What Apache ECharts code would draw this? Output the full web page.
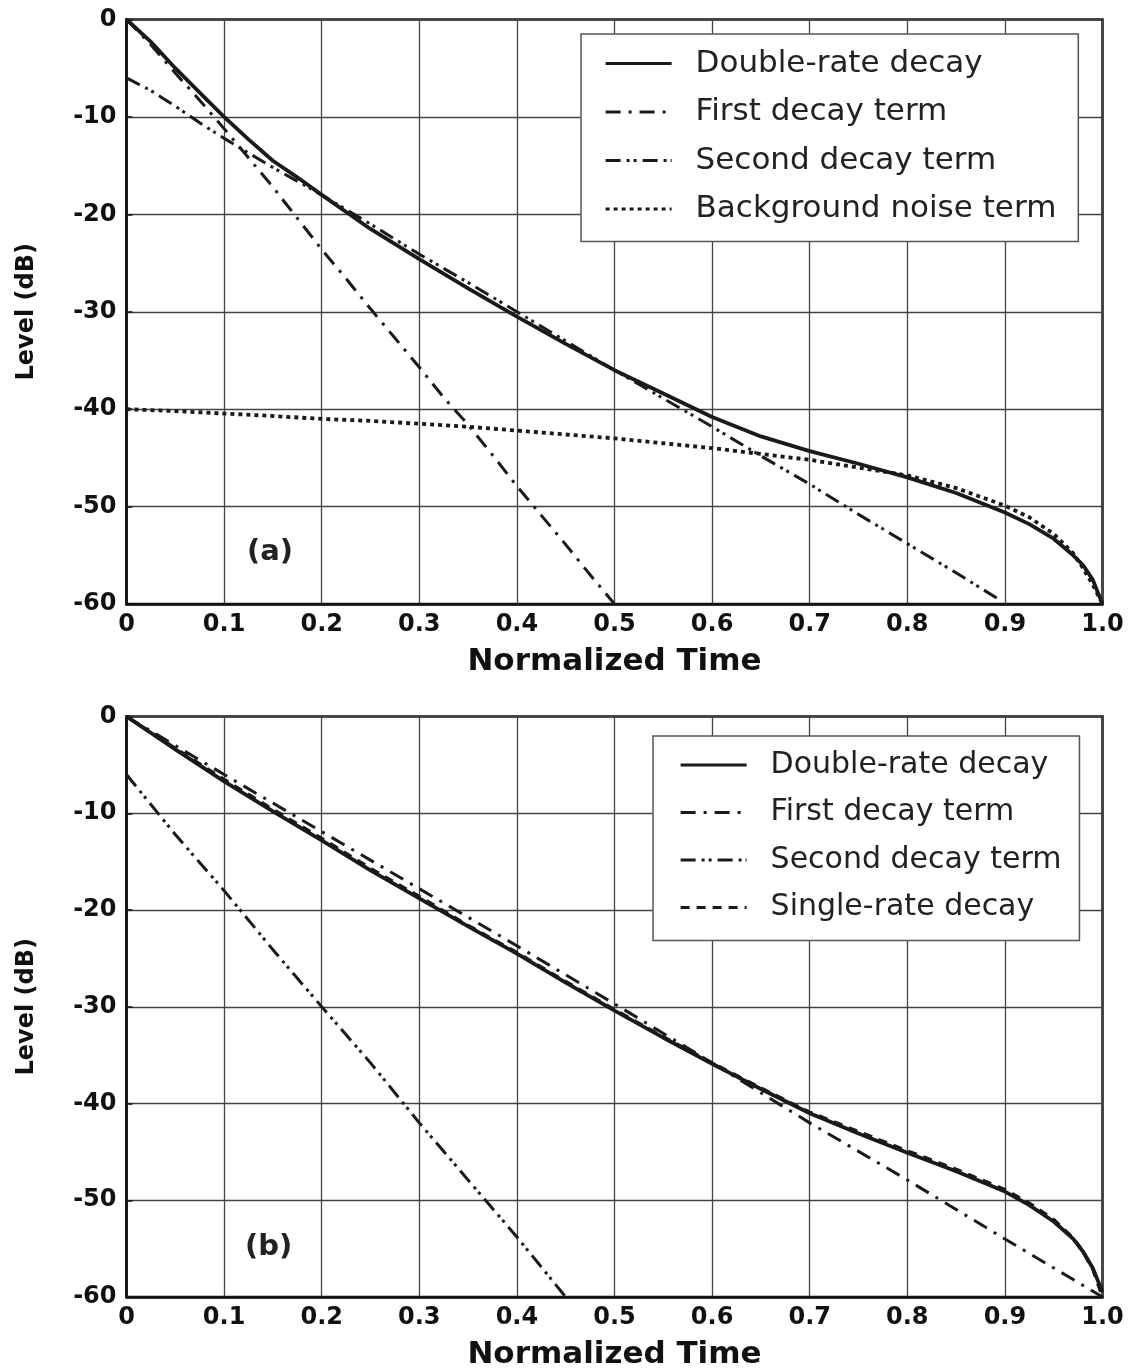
<!DOCTYPE html>
<html>
<head>
<meta charset="utf-8">
<script src="https://cdn.jsdelivr.net/npm/echarts@6/dist/echarts.min.js"></script>
<style>
html,body{margin:0;padding:0;background:#fff;}
#chart{width:1134px;height:1371px;}
</style>
</head>
<body>
<div id="chart"></div>
<script>
// ---------- Data ----------
var xTicks = [0, 0.1, 0.2, 0.3, 0.4, 0.5, 0.6, 0.7, 0.8, 0.9, 1.0];
var yTicks = [0, -10, -20, -30, -40, -50, -60];

// Panel (a)
var aDoubleX = [0,0.025,0.05,0.075,0.1,0.125,0.15,0.175,0.2,0.25,0.3,0.35,0.4,0.45,0.5,0.55,0.6,0.65,0.7,0.75,0.8,0.85,0.9,0.925,0.95,0.97,0.98,0.99,1.0];
var aDoubleY = [0,-2.3,-5.0,-7.5,-10.0,-12.3,-14.5,-16.2,-18.0,-21.5,-24.6,-27.6,-30.5,-33.3,-36.0,-38.4,-40.8,-42.8,-44.3,-45.6,-47.0,-48.6,-50.6,-51.8,-53.3,-55.0,-56.0,-57.5,-60.0];

var aFirstX = [0,0.025,0.05,0.075,0.1,0.125,0.15,0.175,0.2,0.225,0.25,0.275,0.3,0.325,0.35,0.375,0.4,0.425,0.45,0.475,0.5];
var aFirstY = [0,-2.6,-5.5,-8.3,-11.2,-14.2,-17.2,-20.4,-23.6,-26.6,-29.7,-32.7,-35.7,-38.8,-41.6,-44.7,-47.9,-50.9,-53.9,-57.0,-60.0];

var aSecondX = [0,0.025,0.05,0.075,0.1,0.15,0.2,0.25,0.3,0.35,0.4,0.45,0.5,0.55,0.6,0.65,0.7,0.75,0.8,0.85,0.895];
var aSecondY = [-6.0,-7.3,-8.9,-10.6,-12.2,-15.2,-18.0,-21.0,-24.1,-27.0,-30.0,-33.0,-36.0,-38.9,-41.8,-44.8,-47.7,-50.8,-53.8,-56.8,-59.6];

var aNoiseX = [0,0.05,0.1,0.15,0.2,0.25,0.3,0.35,0.4,0.45,0.5,0.55,0.6,0.65,0.7,0.75,0.8,0.85,0.9,0.925,0.95,0.97,0.98,0.99,1.0];
var aNoiseY = [-40.0,-40.2,-40.45,-40.7,-41.0,-41.2,-41.5,-41.8,-42.2,-42.6,-43.0,-43.5,-44.0,-44.6,-45.2,-46.0,-46.8,-48.1,-49.9,-51.1,-52.8,-54.8,-56.3,-58.0,-60.0];

// Panel (b)
var bDoubleX = [0,0.05,0.1,0.15,0.2,0.25,0.3,0.35,0.4,0.45,0.5,0.55,0.6,0.65,0.7,0.75,0.8,0.85,0.9,0.925,0.95,0.97,0.98,0.99,1.0];
var bDoubleY = [0,-3.4,-6.7,-9.8,-12.8,-15.9,-18.8,-21.7,-24.5,-27.5,-30.4,-33.2,-35.9,-38.5,-41.0,-43.1,-45.1,-47.0,-49.1,-50.5,-52.2,-54.0,-55.3,-57.0,-59.5];

var bFirstX = [0,0.1,0.2,0.3,0.4,0.5,0.6,0.7,0.8,0.9,1.0];
var bFirstY = [0,-6.0,-11.9,-17.8,-23.7,-29.7,-35.8,-42.0,-47.9,-54.0,-60.0];

var bSecondX = [0,0.05,0.1,0.15,0.2,0.25,0.3,0.35,0.4,0.45];
var bSecondY = [-6.0,-12.2,-18.0,-24.1,-30.0,-35.8,-42.0,-47.9,-53.8,-60.0];

var bSingleX = [0,0.05,0.1,0.15,0.2,0.25,0.3,0.35,0.4,0.45,0.5,0.55,0.6,0.65,0.7,0.75,0.8,0.85,0.9,0.925,0.95,0.97,0.98,0.99,1.0];
var bSingleY = [0,-3.3,-6.5,-9.6,-12.6,-15.7,-18.6,-21.6,-24.4,-27.4,-30.3,-33.1,-35.8,-38.4,-40.9,-42.9,-44.9,-46.8,-48.9,-50.3,-52.0,-53.9,-55.3,-57.1,-60.0];

var namesA = ['Double-rate decay', 'First decay term', 'Second decay term', 'Background noise term'];
var namesB = ['Double-rate decay', 'First decay term', 'Second decay term', 'Single-rate decay'];
var panelLabels = ['(a)', '(b)'];
var xName = 'Normalized Time';
var yName = 'Level (dB)';

// ---------- Helpers ----------
function pairs(xs, ys) { return xs.map(function (x, i) { return [x, ys[i]]; }); }
var FONT = 'DejaVu Sans';
var INK = '#1a1a1a';

var styles = {
  solid:  { type: 'solid', width: 3.8 },
  dashDot: { type: [15, 8, 3, 8], width: 3 },
  dashDotDot: { type: [15, 6, 3, 4, 3, 6], width: 3 },
  dotted: { type: [4, 4], width: 3.8 },
  dashed: { type: [9, 7], width: 3.4 }
};

function mkSeries(name, xs, ys, st, idx) {
  return {
    type: 'line', name: name, xAxisIndex: idx, yAxisIndex: idx,
    data: pairs(xs, ys), symbol: 'none', showSymbol: false, smooth: false,
    lineStyle: { color: INK, width: st.width, type: st.type, cap: 'butt' },
    itemStyle: { color: INK },
    animation: false
  };
}

function mkX(idx, gap) {
  return {
    type: 'value', gridIndex: idx, min: 0, max: 1, interval: 0.1,
    axisLine: { show: true, onZero: false, lineStyle: { color: '#111', width: 2.5 } },
    axisTick: { show: false },
    splitLine: { show: true, lineStyle: { color: '#444', width: 1.3 } },
    axisLabel: {
      formatter: function (v) { return Math.abs(v) < 1e-9 ? '0' : v.toFixed(1); },
      fontFamily: FONT, fontWeight: 'bold', fontSize: 24, color: '#111', margin: 9
    },
    name: xName, nameLocation: 'middle', nameGap: gap,
    nameTextStyle: { fontFamily: FONT, fontWeight: 'bold', fontSize: 31, color: '#111' }
  };
}
function mkY(idx) {
  return {
    type: 'value', gridIndex: idx, min: -60, max: 0, interval: 10,
    axisLine: { show: true, onZero: false, lineStyle: { color: '#111', width: 2.5 } },
    axisTick: { show: true, inside: true, length: 6, lineStyle: { color: '#111', width: 1.5 } },
    splitLine: { show: true, lineStyle: { color: '#444', width: 1.3 } },
    axisLabel: { fontFamily: FONT, fontWeight: 'bold', fontSize: 24, color: '#111', margin: 10 },
    name: yName, nameLocation: 'middle', nameGap: 88, nameRotate: 90,
    nameTextStyle: { fontFamily: FONT, fontWeight: 'bold', fontSize: 24, color: '#111' }
  };
}
function mkLegend(names, left, top, fs, pad) {
  return {
    data: names, orient: 'vertical', left: left, top: top,
    backgroundColor: '#fff', borderColor: '#555', borderWidth: 1.5, borderRadius: 0,
    padding: pad, itemWidth: 66, itemHeight: 20, itemGap: 17.5,
    selectedMode: false,
    itemStyle: { opacity: 0, borderWidth: 0 },
    lineStyle: { width: 3.2 },
    textStyle: { fontFamily: FONT, fontSize: fs, color: '#222', padding: [0, 0, 0, 19] }
  };
}

var chart = echarts.init(document.getElementById('chart'), null, { renderer: 'canvas' });
var option = {
  backgroundColor: '#fff',
  animation: false,
  grid: [
    { left: 126.5, top: 19.5, width: 976, height: 584.5, show: true, borderColor: '#111', borderWidth: 2.5, backgroundColor: 'transparent' },
    { left: 126.5, top: 716.5, width: 976, height: 585, show: true, borderColor: '#111', borderWidth: 2.5, backgroundColor: 'transparent' }
  ],
  xAxis: [mkX(0, 42), mkX(1, 42)],
  yAxis: [mkY(0), mkY(1)],
  legend: [
    mkLegend(namesA, 581, 34, 31, [14, 22, 17, 23]),
    mkLegend(namesB, 653, 736, 30, [14, 18, 18, 26])
  ],
  graphic: [
    { type: 'text', left: 247, top: 538, style: { text: panelLabels[0], font: 'bold 29px "DejaVu Sans"', fill: '#222' } },
    { type: 'text', left: 245, top: 1233, style: { text: panelLabels[1], font: 'bold 29px "DejaVu Sans"', fill: '#222' } }
  ],
  series: [
    mkSeries(namesA[3], aNoiseX, aNoiseY, styles.dotted, 0),
    mkSeries(namesA[1], aFirstX, aFirstY, styles.dashDot, 0),
    mkSeries(namesA[2], aSecondX, aSecondY, styles.dashDotDot, 0),
    mkSeries(namesA[0], aDoubleX, aDoubleY, styles.solid, 0),
    mkSeries(namesB[1], bFirstX, bFirstY, styles.dashDot, 1),
    mkSeries(namesB[2], bSecondX, bSecondY, styles.dashDotDot, 1),
    mkSeries(namesB[0], bDoubleX, bDoubleY, styles.solid, 1),
    mkSeries(namesB[3], bSingleX, bSingleY, styles.dashed, 1)
  ]
};
chart.setOption(option);
</script>
</body>
</html>
